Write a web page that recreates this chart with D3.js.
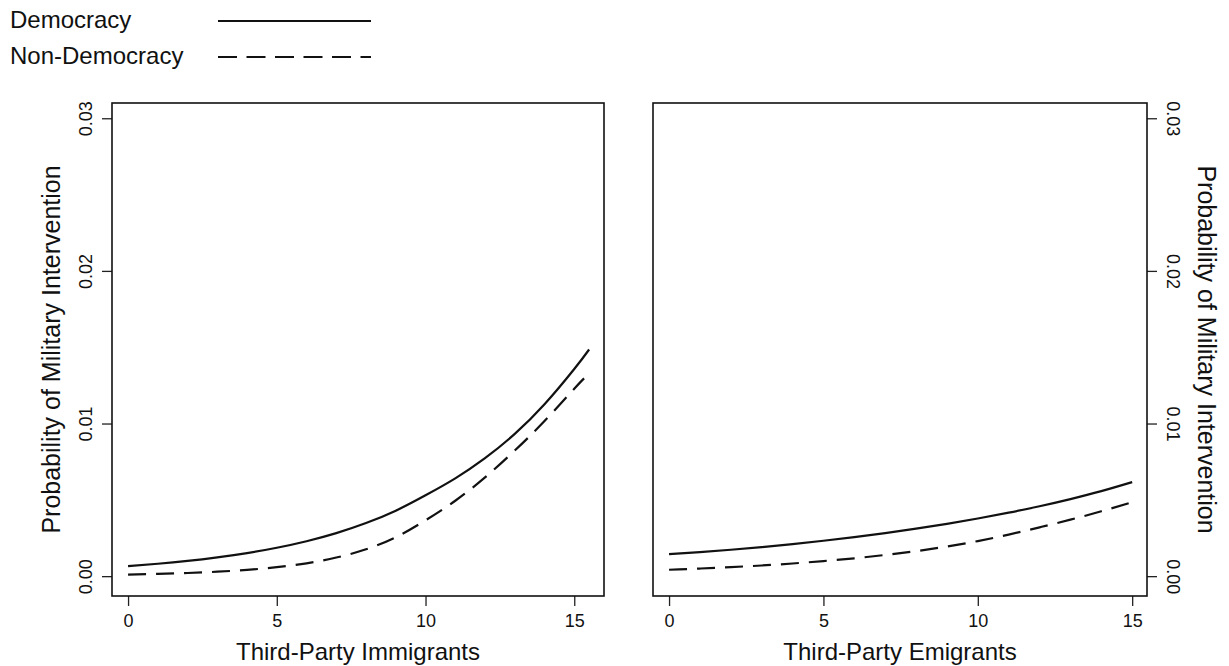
<!DOCTYPE html>
<html>
<head>
<meta charset="utf-8">
<script src="https://cdn.jsdelivr.net/npm/d3@7"></script>
<style>
  body { margin: 0; background: #fff; }
  svg { display: block; }
  text { font-family: "Liberation Sans", Arial, Helvetica, sans-serif; fill: #111; }
</style>
</head>
<body>
<svg id="chart" width="1229" height="666"></svg>
<script>
// values
var immX      = [0, 1, 2, 3, 4, 5, 6, 7, 8, 9, 10, 11, 12, 13, 14, 15, 15.5];
var immDemo   = [.00066, .000812, .000998, .00123, .00151, .00186, .00229, .00282, .00348, .00429, .00530, .00641, .00773, .00932, .01126, .01357, .01485];
var immNonX   = [0, 1, 2, 3, 4, 5, 6, 7, 8, 9, 10, 11, 12, 13, 14, 15, 15.33];
var immNon    = [.000106, .000147, .000207, .000291, .000413, .000587, .000842, .00122, .00176, .00255, .00366, .00494, .00647, .00823, .01016, .01228, .01296];

var emiX      = [0, 1, 2, 3, 4, 5, 6, 7, 8, 9, 10, 11, 12, 13, 14, 15];
var emiDemo   = [.00144, .00158, .00173, .00190, .00210, .00232, .00256, .00282, .00311, .00343, .00378, .00416, .00458, .00505, .00557, .00616];
var emiNon    = [.00042, .00050, .00059, .00070, .00083, .00099, .00117, .00139, .00164, .00194, .00230, .00272, .00320, .00370, .00425, .00485];

var xTicks = [0, 5, 10, 15];
var yTicks = [0, 0.01, 0.02, 0.03];
var legendLabels = ["Democracy", "Non-Democracy"];

var svg = d3.select("#chart");
var dash = "18,10";

var plotTop = 103, plotBottom = 596;
var y = d3.scaleLinear().domain([-0.0013, 0.031]).range([plotBottom, plotTop]);
var fmtY = d3.format(".2f");

var panels = [
    {x0: 112, x1: 604, dom: [-0.54, 16.0], title: "Third-Party Immigrants", side: "left",
     series: [[immX, immDemo, null], [immNonX, immNon, dash]]},
    {x0: 653, x1: 1147, dom: [-0.52, 15.48], title: "Third-Party Emigrants", side: "right",
     series: [[emiX, emiDemo, null], [emiX, emiNon, dash]]}
];

panels.forEach(function(p) {
    var x = d3.scaleLinear().domain(p.dom).range([p.x0, p.x1]);

    // bottom axis
    var gx = svg.append("g")
        .attr("transform", "translate(0," + plotBottom + ")")
        .call(d3.axisBottom(x).tickValues(xTicks).tickSize(10).tickPadding(8).tickSizeOuter(0));
    gx.select(".domain").remove();
    gx.selectAll("line").attr("stroke", "#222").attr("stroke-width", 1.3);
    gx.selectAll("text").attr("font-size", 18).attr("fill", "#111");

    // y axis, tick labels turned on their side like R
    var yAxis = p.side == "left" ? d3.axisLeft(y) : d3.axisRight(y);
    var ax = p.side == "left" ? p.x0 : p.x1;
    var gy = svg.append("g")
        .attr("transform", "translate(" + ax + ",0)")
        .call(yAxis.tickValues(yTicks).tickSize(10).tickFormat(fmtY).tickSizeOuter(0));
    gy.select(".domain").remove();
    gy.selectAll("line").attr("stroke", "#222").attr("stroke-width", 1.3);
    gy.selectAll("text")
        .attr("font-size", 18).attr("fill", "#111")
        .attr("text-anchor", "middle")
        .attr("x", 0).attr("y", -20).attr("dy", 0)
        .attr("transform", p.side == "left" ? "rotate(-90)" : "rotate(90)");

    // curves
    var line = d3.line()
        .x(function(d) { return x(d[0]); })
        .y(function(d) { return y(d[1]); })
        .curve(d3.curveNatural);
    p.series.forEach(function(s) {
        var pts = s[0].map(function(v, i) { return [v, s[1][i]]; });
        svg.append("path")
            .attr("d", line(pts))
            .attr("fill", "none")
            .attr("stroke", "#111")
            .attr("stroke-width", 2.2)
            .attr("stroke-dasharray", s[2]);
    });

    // box
    svg.append("rect")
        .attr("x", p.x0).attr("y", plotTop)
        .attr("width", p.x1 - p.x0).attr("height", plotBottom - plotTop)
        .attr("fill", "none").attr("stroke", "#111").attr("stroke-width", 1.6);

    // x title
    svg.append("text")
        .attr("x", (p.x0 + p.x1) / 2).attr("y", 660)
        .attr("text-anchor", "middle").attr("font-size", 24)
        .text(p.title);

    // y title
    var cy = (plotTop + plotBottom) / 2;
    if (p.side == "left") {
        svg.append("text")
            .attr("transform", "translate(60," + cy + ") rotate(-90)")
            .attr("text-anchor", "middle").attr("font-size", 25)
            .text("Probability of Military Intervention");
    } else {
        svg.append("text")
            .attr("transform", "translate(1198," + cy + ") rotate(90)")
            .attr("text-anchor", "middle").attr("font-size", 25)
            .text("Probability of Military Intervention");
    }
});

// legend, top left
legendLabels.forEach(function(lab, i) {
    var ly = 21 + i * 36;
    svg.append("text")
        .attr("x", 10).attr("y", ly + 7)
        .attr("font-size", 24)
        .text(lab);
    svg.append("line")
        .attr("x1", 218).attr("x2", 371)
        .attr("y1", ly).attr("y2", ly)
        .attr("stroke", "#111").attr("stroke-width", 2)
        .attr("stroke-dasharray", i == 0 ? null : "19,9.5");
});
</script>
</body>
</html>
